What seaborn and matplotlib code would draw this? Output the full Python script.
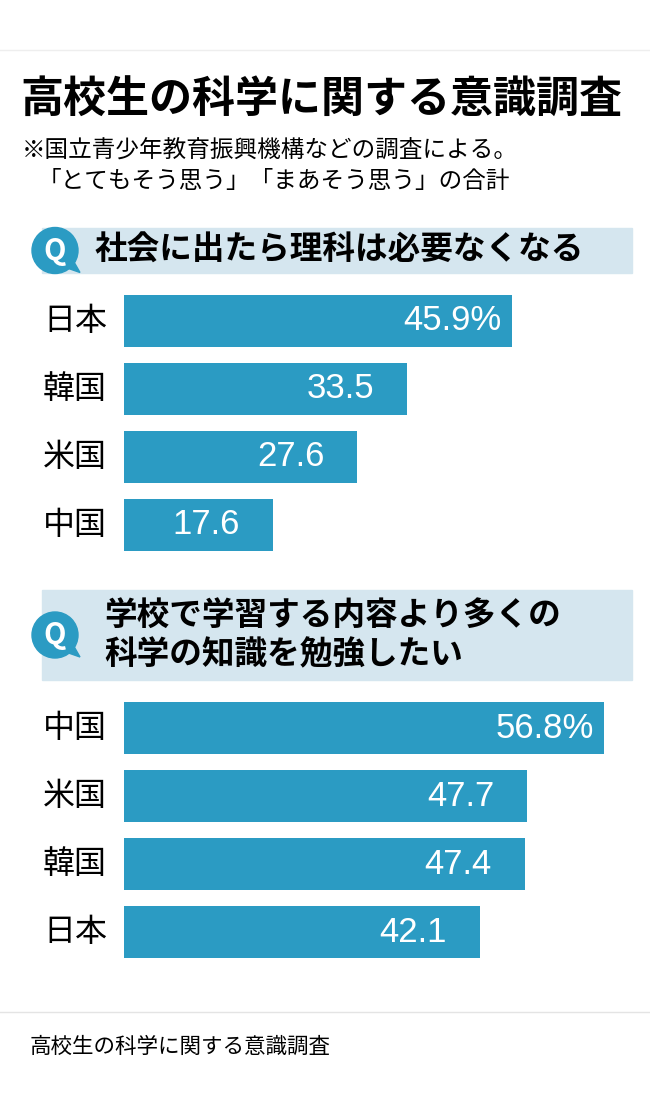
import matplotlib
matplotlib.use("Agg")
import matplotlib.pyplot as plt
import seaborn as sns
import pandas as pd
from matplotlib.patches import Rectangle, Circle, Polygon

plt.rcParams["font.family"] = "Noto Sans CJK JP"

# data
q1_countries = ["日本", "韓国", "米国", "中国"]
q1_values = [45.9, 33.5, 27.6, 17.6]
q2_countries = ["中国", "米国", "韓国", "日本"]
q2_values = [56.8, 47.7, 47.4, 42.1]

W, H = 650, 1095
BAR = "#2b9bc3"
BAND = "#d5e6ef"
fig = plt.figure(figsize=(W / 100, H / 100), dpi=100)
fig.patch.set_facecolor("white")

# overlay axes in pixel coordinates (y down)
bg = fig.add_axes([0, 0, 1, 1])
bg.set_xlim(0, W)
bg.set_ylim(H, 0)
bg.axis("off")

bg.plot([0, W], [50, 50], color="#eeeeee", lw=1)
bg.plot([0, W], [1012, 1012], color="#e4e4e4", lw=1)

bg.text(20, 100, "高校生の科学に関する意識調査", fontsize=31, fontweight="bold",
        va="center", ha="left")
bg.text(22, 150, "※国立青少年教育振興機構などの調査による。", fontsize=17,
        va="center", ha="left")
bg.text(38, 182, "「とてもそう思う」「まあそう思う」の合計", fontsize=17,
        va="center", ha="left")
bg.text(30, 1047, "高校生の科学に関する意識調査", fontsize=15.5, va="center", ha="left")


def header(y0, y1, lines):
    bg.add_patch(Rectangle((42, y0), 590, y1 - y0, color=BAND, zorder=1))
    cy = (y0 + y1) / 2
    bg.add_patch(Circle((55, cy), 23, color=BAR, zorder=2))
    bg.add_patch(Polygon([[60, cy + 15], [80, cy + 22], [72, cy + 8]], color=BAR, zorder=2))
    bg.text(55, cy, "Q", color="white", fontsize=21, fontweight="bold",
            ha="center", va="center", zorder=3)
    n = len(lines)
    for i, ln in enumerate(lines):
        yy = cy + (i - (n - 1) / 2) * 40
        bg.text(95 if n == 1 else 104, yy, ln, fontsize=23.5, fontweight="bold",
                ha="left", va="center", zorder=3)


header(228, 273, ["社会に出たら理科は必要なくなる"])
header(590, 680, ["学校で学習する内容より多くの", "科学の知識を勉強したい"])

PX = 8.45  # pixels per percentage point


def bars(top, countries, values):
    ax_w = 500
    ax = fig.add_axes([124 / W, 1 - (top + 272) / H, ax_w / W, 272 / H])
    df = pd.DataFrame({"country": countries, "value": values})
    sns.barplot(data=df, x="value", y="country", orient="h", color=BAR,
                saturation=1, width=52 / 68, ax=ax)
    ax.set_xlim(0, ax_w / PX)
    ax.axis("off")
    for i, (c, v) in enumerate(zip(countries, values)):
        lab = f"{v}%" if i == 0 else f"{v}"
        ax.text(v - (1.2 if i == 0 else 3.9), i, lab, color="white", fontsize=25,
                fontfamily="Liberation Sans", ha="right", va="center")
        ax.text(-49 / PX, i, c, fontsize=23, ha="center", va="center", clip_on=False)


bars(287, q1_countries, q1_values)
bars(694, q2_countries, q2_values)

fig.savefig("out.png", dpi=100)
